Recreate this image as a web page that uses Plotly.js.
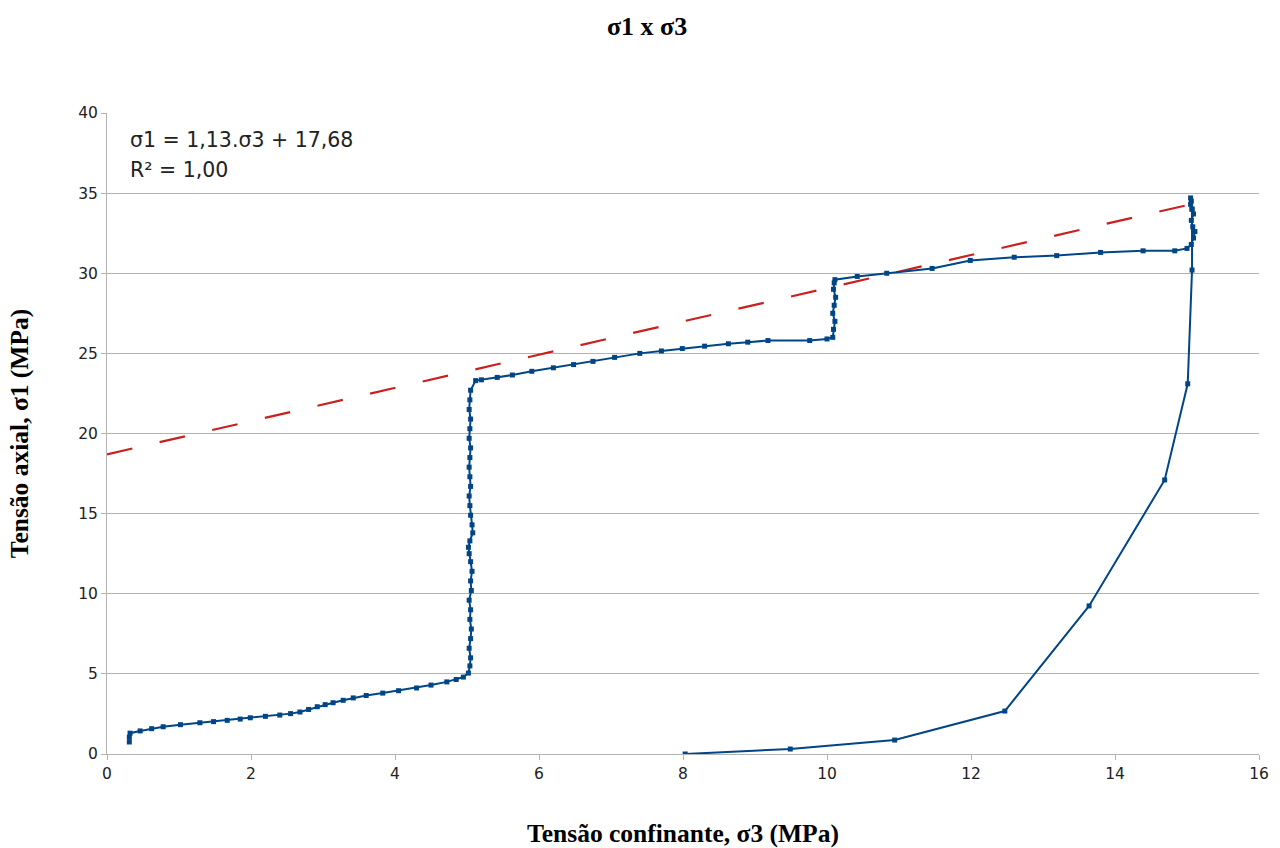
<!DOCTYPE html>
<html>
<head>
<meta charset="utf-8">
<script src="https://cdn.plot.ly/plotly-3.0.1.min.js"></script>
<style>
  html, body { margin: 0; padding: 0; background: #ffffff; }
  #chart { width: 1280px; height: 848px; }
</style>
</head>
<body>
<div id="chart"></div>
<script>
// σ3 (confining stress, MPa)
const sigma3 = [
  0.31, 0.31, 0.32, 0.46, 0.62, 0.78, 1.02, 1.29, 1.48, 1.67, 1.85, 1.99, 2.2, 2.4, 2.55, 2.68, 2.8, 2.92, 3.03, 3.14, 3.28, 3.42, 3.6, 3.83, 4.05, 4.3, 4.5, 4.72, 4.85, 4.95, 5.02,
  5.04, 5.05, 5.03, 5.05, 5.06, 5.04, 5.05, 5.03, 5.06, 5.05, 5.07, 5.05, 5.03, 5.02, 5.04, 5.08, 5.07, 5.05, 5.04, 5.03, 5.05, 5.04, 5.03, 5.04, 5.05, 5.03, 5.04, 5.05, 5.03, 5.04, 5.05,
  5.12, 5.2, 5.42, 5.63, 5.9, 6.2, 6.48, 6.75, 7.05, 7.4, 7.7, 7.99, 8.3, 8.63, 8.9, 9.18, 9.76, 10.0, 10.08,
  10.09, 10.11, 10.08, 10.1, 10.12, 10.09, 10.1, 10.11,
  10.42, 10.83, 11.46, 11.99, 12.6, 13.19, 13.8, 14.39, 14.83, 15.0,
  15.06, 15.09, 15.11, 15.08, 15.06, 15.09, 15.07, 15.05, 15.06, 15.05,
  15.07, 15.07, 15.01, 14.69, 13.64, 12.47, 10.94, 9.49, 8.03
];
// σ1 (axial stress, MPa)
const sigma1 = [
  0.75, 1.05, 1.3, 1.44, 1.58, 1.7, 1.83, 1.95, 2.02, 2.1, 2.18, 2.26, 2.35, 2.43, 2.52, 2.62, 2.78, 2.95, 3.08, 3.2, 3.35, 3.5, 3.65, 3.8, 3.95, 4.12, 4.3, 4.5, 4.65, 4.8, 5.05,
  5.5, 6.0, 6.6, 7.2, 7.8, 8.4, 9.0, 9.6, 10.2, 10.8, 11.4, 12.0, 12.5, 12.9, 13.3, 13.8, 14.3, 14.9, 15.5, 16.1, 16.7, 17.3, 17.9, 18.5, 19.1, 19.7, 20.3, 20.9, 21.5, 22.1, 22.7,
  23.3, 23.35, 23.5, 23.65, 23.88, 24.1, 24.3, 24.5, 24.75, 25.0, 25.15, 25.3, 25.45, 25.6, 25.7, 25.8, 25.8, 25.9, 26.0,
  26.5, 27.0, 27.5, 28.0, 28.5, 29.0, 29.4, 29.6,
  29.8, 30.0, 30.3, 30.8, 31.0, 31.1, 31.3, 31.4, 31.4, 31.55,
  31.8, 32.2, 32.6, 32.9, 33.3, 33.7, 34.0, 34.3, 34.5, 34.7,
  34.0, 30.2, 23.1, 17.1, 9.24, 2.68, 0.87, 0.31, 0.0
];
// Linear trend line as drawn in the picture (end points)
const trendX = [0, 15.05];
const trendY = [18.7, 34.3];

const equationText = "σ1 = 1,13.σ3 + 17,68";
const r2Text = "R² = 1,00";
const xTicks = [0, 2, 4, 6, 8, 10, 12, 14, 16];
const yTicks = [0, 5, 10, 15, 20, 25, 30, 35, 40];

const traces = [
  {
    x: trendX, y: trendY,
    type: 'scatter', mode: 'lines',
    line: { color: '#c9211e', width: 2.2, dash: '26px,28px' },
    hoverinfo: 'skip', showlegend: false
  },
  {
    x: sigma3, y: sigma1,
    type: 'scatter', mode: 'lines+markers',
    line: { color: '#004586', width: 2 },
    marker: { symbol: 'square', size: 5, color: '#004586' },
    showlegend: false
  }
];

const serif = '"Liberation Serif", "DejaVu Serif", serif';
const sans = '"DejaVu Sans", "Liberation Sans", sans-serif';

const layout = {
  width: 1280, height: 848,
  paper_bgcolor: '#ffffff', plot_bgcolor: '#ffffff',
  margin: { l: 107, r: 21, t: 113, b: 94 },
  showlegend: false,
  title: {
    text: '<b>σ1 x σ3</b>',
    font: { family: serif, size: 26, color: '#000000' },
    x: 0.5055, xref: 'container', xanchor: 'center',
    y: 0.97, yref: 'container', yanchor: 'middle'
  },
  xaxis: {
    range: [0, 16], tickmode: 'array', tickvals: xTicks, ticktext: xTicks.map(String),
    showgrid: false, zeroline: false,
    showline: true, linecolor: '#b3b3b3', linewidth: 1,
    ticks: 'outside', ticklen: 5, tickcolor: '#b3b3b3',
    tickfont: { family: sans, size: 15.5, color: '#222222' },
    title: { text: '<b>Tensão confinante, σ3 (MPa)</b>', font: { family: serif, size: 25.5, color: '#000000' }, standoff: 45 },
    automargin: false
  },
  yaxis: {
    range: [0, 40], tickmode: 'array', tickvals: yTicks, ticktext: yTicks.map(String),
    showgrid: true, gridcolor: '#b3b3b3', gridwidth: 1, zeroline: false,
    showline: true, linecolor: '#b3b3b3', linewidth: 1,
    ticks: 'outside', ticklen: 5, tickcolor: '#b3b3b3',
    tickfont: { family: sans, size: 15.5, color: '#222222' },
    title: { text: '<b>Tensão axial, σ1 (MPa)</b>', font: { family: serif, size: 25.5, color: '#000000' }, standoff: 42 },
    automargin: false
  },
  annotations: [
    { text: equationText, xref: 'paper', yref: 'paper', x: 0.018, y: 0.979, xanchor: 'left', yanchor: 'top',
      showarrow: false, font: { family: sans, size: 20.5, color: '#222222' } },
    { text: r2Text, xref: 'paper', yref: 'paper', x: 0.018, y: 0.933, xanchor: 'left', yanchor: 'top',
      showarrow: false, font: { family: sans, size: 20.5, color: '#222222' } }
  ]
};

Plotly.newPlot('chart', traces, layout, { displayModeBar: false, staticPlot: true });
</script>
</body>
</html>
